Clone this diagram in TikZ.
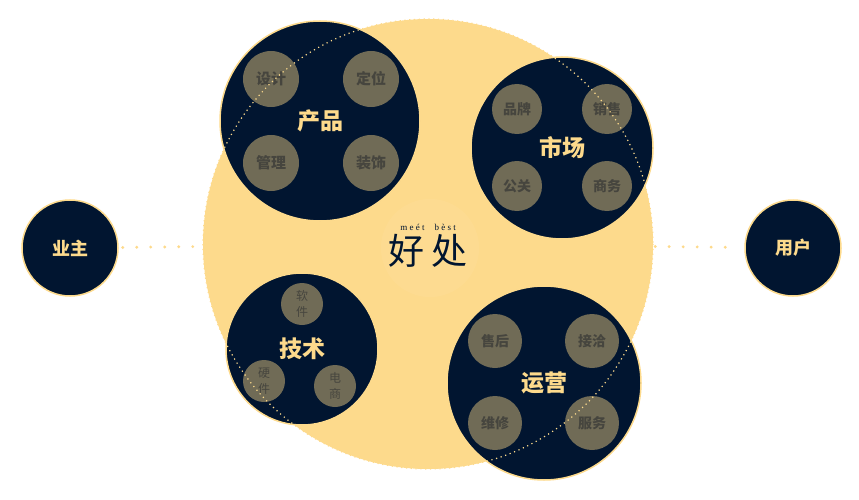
\documentclass[tikz,border=0pt]{standalone}
\usepackage{fontspec}
\setmainfont{Noto Sans CJK SC}
\newfontfamily\cjk{Noto Sans CJK SC}
\newfontfamily\pinyin[LetterSpace=25]{Liberation Serif}
\usetikzlibrary{positioning}
\definecolor{navy}{HTML}{011530}
\definecolor{sand}{HTML}{FDDA8C}
\definecolor{olive}{HTML}{706B56}
\definecolor{ink}{HTML}{46453E}
\tikzset{
	x=1pt, y=-1pt,
	core/.style={circle, fill=sand, inner sep=0pt, minimum size=450pt},
	hub/.style={circle, fill=navy, draw=sand, line width=1.5pt, inner sep=0pt,
		text=sand, font=\cjk\bfseries\fontsize{23}{23}\selectfont},
	side/.style={hub, minimum size=96pt, font=\cjk\bfseries\fontsize{18}{18}\selectfont},
	item/.style={circle, fill=olive, inner sep=0pt, text=ink},
	rim/.style={sand, line width=1.2pt, dash pattern=on 1.2pt off 3.6pt},
	link/.style={sand, line width=3.2pt, line cap=round, dash pattern=on 0pt off 14pt},
}
\begin{document}
\begin{tikzpicture}
	\useasboundingbox (0,0) rectangle (859,500);

	% center
	\node[core] (core) at (428,244) {};
	\node[circle, fill=white, opacity=0.05, minimum size=98pt] (halo) at (430,248) {};
	\node[text=navy, font=\cjk\fontsize{36}{36}\selectfont] (word) at (428,251) {好\hspace{8pt}处};
	\node[text=navy, font=\pinyin\fontsize{9}{9}\selectfont, above=-3pt of word] (sound) {meét\hspace{10pt}bèst};

	% outer circles
	\node[side] (owner) at (70,248) {业主};
	\node[side] (user) at (793,248) {用户};
	\draw[link] (owner) -- (core) [shorten <=4pt, shorten >=8pt];
	\draw[link] (core) -- (user) [shorten <=2pt, shorten >=8pt];

	% product
	\node[hub, minimum size=200pt] (product) at (320,121) {产品};
	\node[item, minimum size=56pt, font=\cjk\bfseries\fontsize{15}{15}\selectfont] (design) at (271,79) {设计};
	\node[item, minimum size=56pt, font=\cjk\bfseries\fontsize{15}{15}\selectfont] (position) at (371,79) {定位};
	\node[item, minimum size=56pt, font=\cjk\bfseries\fontsize{15}{15}\selectfont] (manage) at (271,163) {管理};
	\node[item, minimum size=56pt, font=\cjk\bfseries\fontsize{15}{15}\selectfont] (decor) at (371,163) {装饰};

	% market
	\node[hub, minimum size=182pt] (market) at (562,148) {市场};
	\node[item, minimum size=50pt, font=\cjk\bfseries\fontsize{14}{14}\selectfont] (brand) at (517,109) {品牌};
	\node[item, minimum size=50pt, font=\cjk\bfseries\fontsize{14}{14}\selectfont] (sales) at (607,109) {销售};
	\node[item, minimum size=50pt, font=\cjk\bfseries\fontsize{14}{14}\selectfont] (pr) at (517,186) {公关};
	\node[item, minimum size=50pt, font=\cjk\bfseries\fontsize{14}{14}\selectfont] (trade) at (607,186) {商务};

	% tech
	\node[hub, minimum size=152pt] (tech) at (302,349) {技术};
	\node[item, minimum size=42pt, align=center, font=\cjk\fontsize{12}{16}\selectfont] (soft) at (302,304) {软\\件};
	\node[item, minimum size=42pt, align=center, font=\cjk\fontsize{12}{16}\selectfont] (hard) at (264,381) {硬\\件};
	\node[item, minimum size=42pt, align=center, font=\cjk\fontsize{12}{16}\selectfont] (ecom) at (335,386) {电\\商};

	% operation
	\node[hub, minimum size=194pt] (ops) at (544,383) {运营};
	\node[item, minimum size=54pt, font=\cjk\bfseries\fontsize{14}{14}\selectfont] (after) at (495,341) {售后};
	\node[item, minimum size=54pt, font=\cjk\bfseries\fontsize{14}{14}\selectfont] (contact) at (592,341) {接洽};
	\node[item, minimum size=54pt, font=\cjk\bfseries\fontsize{14}{14}\selectfont] (repair) at (495,423) {维修};
	\node[item, minimum size=54pt, font=\cjk\bfseries\fontsize{14}{14}\selectfont] (service) at (592,423) {服务};

	% outline of the center through the circles
	\draw[rim] (core.center) circle[radius=225];
\end{tikzpicture}
\end{document}
